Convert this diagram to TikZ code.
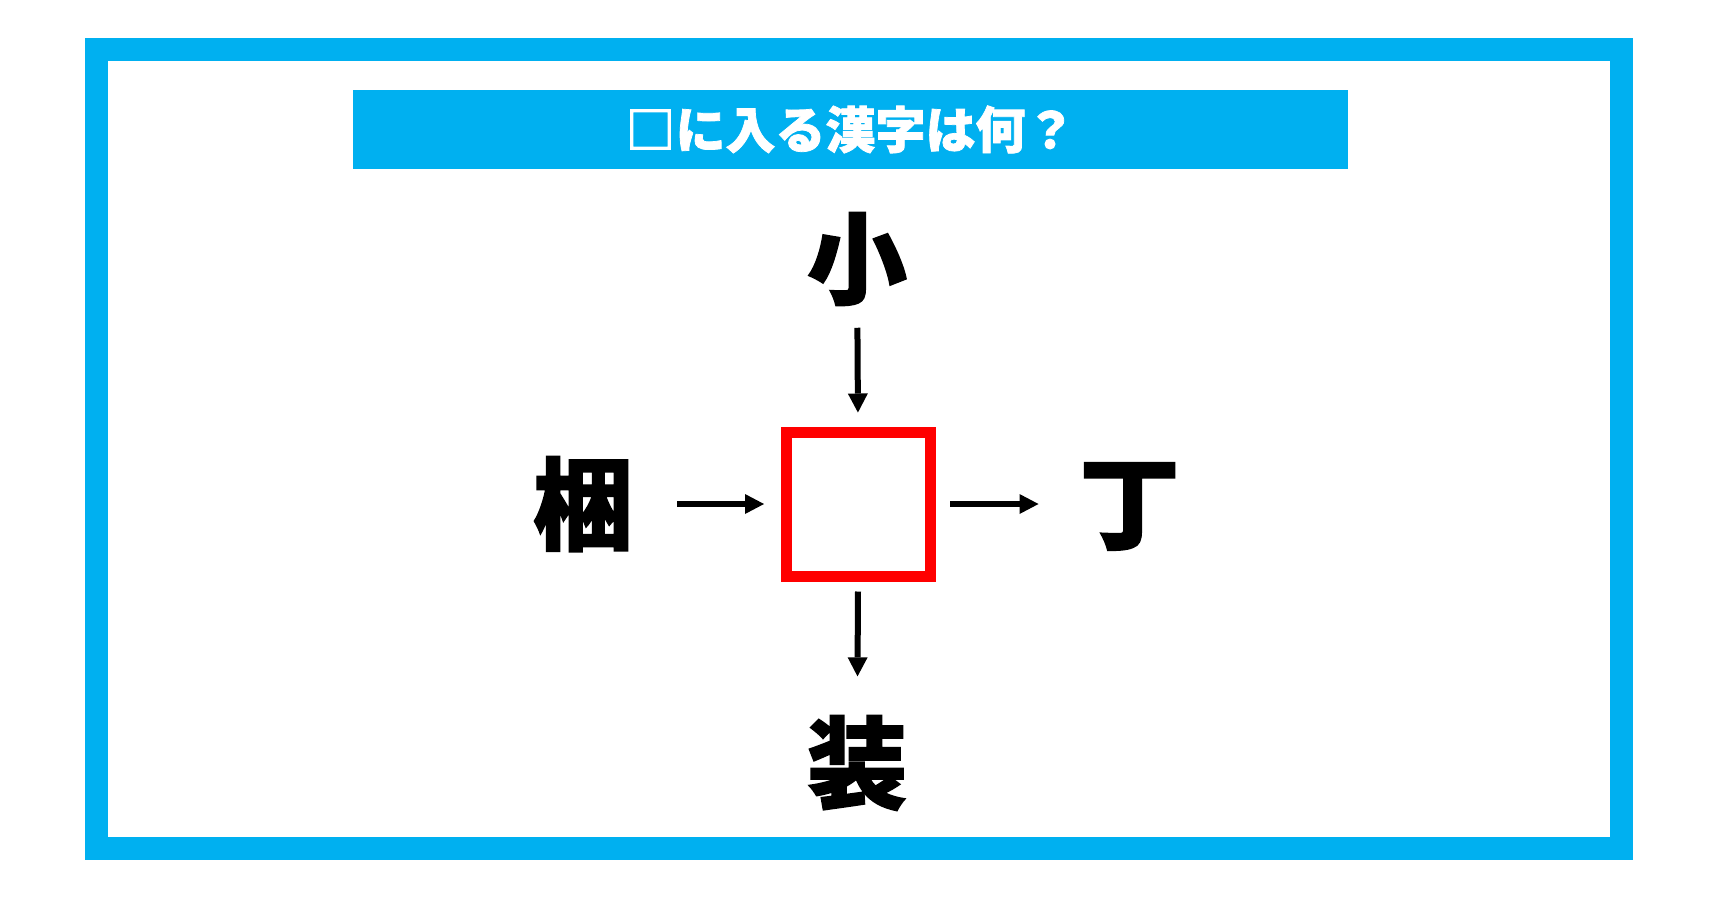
\documentclass[tikz,border=0pt]{standalone}
\usepackage{fontspec}
\usepackage{tikz}
\usetikzlibrary{arrows.meta, positioning}
\usepackage{xcolor}
\newfontfamily\jpfont{Noto Sans CJK JP}[BoldFeatures={FakeBold=1.5}]
\definecolor{quizblue}{HTML}{00B0F0}
\definecolor{quizred}{HTML}{FF0000}
\tikzset{%
	every kanji/.style={
		inner sep=0pt,
		outer sep=0pt,
		font=\jpfont\bfseries\fontsize{100}{100}\selectfont
	},
	blank box/.style={
		draw=quizred,
		line width=11pt,
		minimum size=144pt,
		inner sep=0pt
	},
	title bar/.style={
		fill=quizblue,
		text=white,
		minimum width=995pt,
		minimum height=79pt,
		inner sep=0pt,
		font=\jpfont\bfseries\fontsize{50}{50}\selectfont
	},
	hint arrow/.style={
		line width=6pt,
		-{Triangle[length=19pt,width=20pt,line width=0pt,fill=black]}
	},
}
\begin{document}
\begin{tikzpicture}[x=1pt, y=-1pt]
			% Fix the page to the size of the image
			\useasboundingbox (0,0) rectangle (1714,900);
			
			% Draw the outer frame and the title
			\draw[quizblue, line width=23pt] (96.5,49.5) rectangle (1621.5,848.5);
			\node[title bar] (title) at (850.5,129.5) {□に入る漢字は何？};
			
			% Draw the empty square in the middle
			\node[blank box] (box) at (858.5,504) {};
			
			% Draw the four characters round the square
			\foreach \name/\char/\x/\y in {top/小/857/259, lt/梱/583/504, rt/丁/1129.5/506.5, bt/装/857/763} {
				\node[every kanji] (\name) at (\x,\y) {\char};
			}
			
			% Draw the arrows
			\draw[hint arrow, shorten <=22pt, shorten >=14pt] (top) -- (box);
			\draw[hint arrow, shorten <=44pt, shorten >=17pt] (lt.east) -- (lt.east -| box.west);
			\draw[hint arrow, shorten <=14pt, shorten >=41pt] (box.east) -- (box.east -| rt.west);
			\draw[hint arrow, shorten <=10pt, shorten >=39pt] (box) -- (bt);
			
		\end{tikzpicture}
\end{document}
